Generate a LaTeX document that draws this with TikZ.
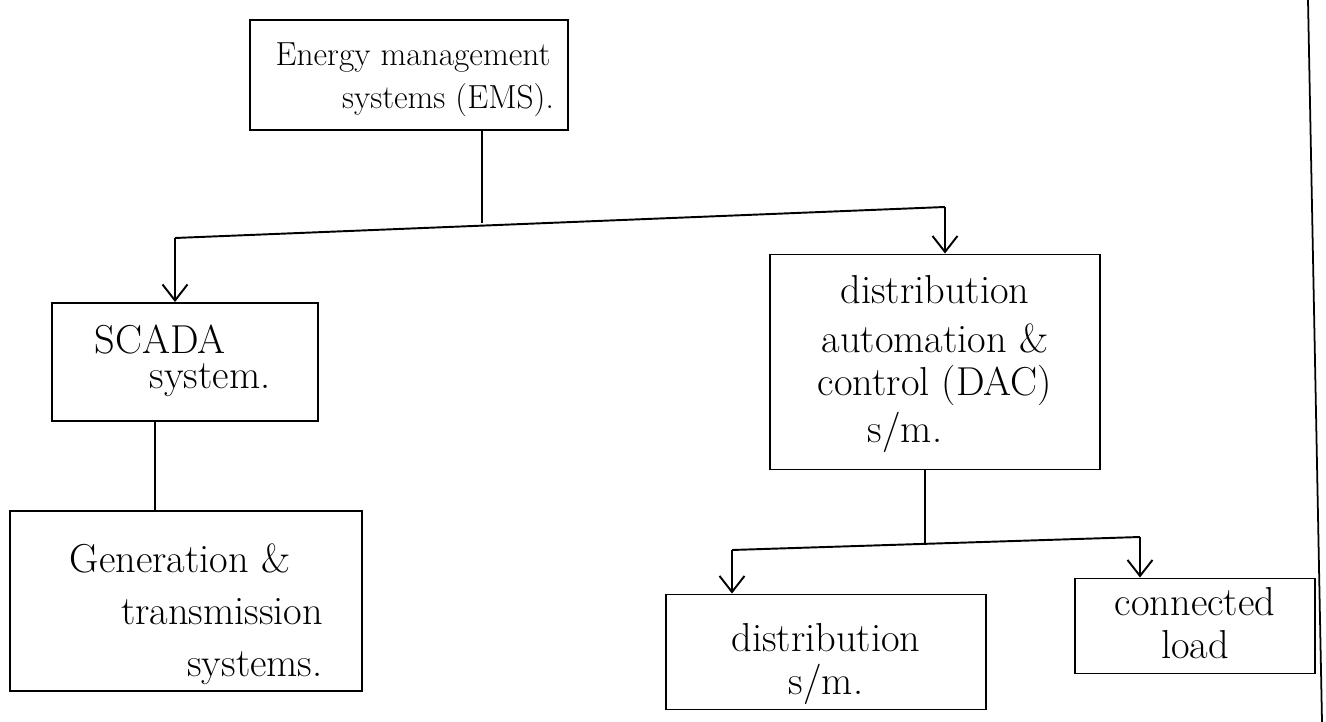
\documentclass[tikz,border=0pt]{standalone}
\usetikzlibrary{arrows.meta}
\begin{document}
\begin{tikzpicture}[x=0.02cm,y=-0.02cm,
  box/.style={draw,line width=1.1pt,inner sep=0pt},
  lbl/.style={font=\fontsize{23}{40}\selectfont,align=center},
  small/.style={font=\fontsize{19}{30}\selectfont},
  link/.style={line width=1.1pt},
  arr/.style={line width=1.1pt,-{Straight Barb[length=0.32cm,width=0.5cm,line width=1.1pt]}}]
\useasboundingbox (0,0) rectangle (1326,722);

% boxes
\node[box,minimum width=318*0.02cm,minimum height=110*0.02cm] (ems) at (409,75) {};
\node[box,minimum width=266*0.02cm,minimum height=118*0.02cm] (scada) at (185,362) {};
\node[box,minimum width=352*0.02cm,minimum height=180*0.02cm] (gen) at (186,601) {};
\node[box,minimum width=330*0.02cm,minimum height=215*0.02cm] (dac) at (935,362) {};
\node[box,minimum width=320*0.02cm,minimum height=115*0.02cm] (dist) at (826,652) {};
\node[box,minimum width=240*0.02cm,minimum height=95*0.02cm] (load) at (1195,626) {};

% texts
\node[lbl,small] (t1) at (413,58) {Energy management};
\node[lbl,small] (t2) at (448,100) {systems (EMS).};
\node[lbl] (t3) at (160,340) {SCADA};
\node[lbl] (t4) at (210,380) {system.};
\node[lbl] (t5) at (180,558) {Generation \&};
\node[lbl] (t6) at (222,612) {transmission};
\node[lbl] (t7) at (255,668) {systems.};
\node[lbl] (t8) at (935,290) {distribution};
\node[lbl] (t9) at (935,338) {automation \&};
\node[lbl] (t10) at (935,385) {control (DAC)};
\node[lbl] (t11) at (905,432) {s/m.};
\node[lbl] (t12) at (826,638) {distribution};
\node[lbl] (t13) at (826,684) {s/m.};
\node[lbl] (t14) at (1195,602) {connected};
\node[lbl] (t15) at (1195,645) {load};

% connectors
\coordinate (j1) at (482,223);
\coordinate (l1) at (175,238);
\coordinate (r1) at (945,207);
\draw[link] (ems.south -| j1) -- (j1);
\draw[link] (l1) -- (r1);
\draw[arr] (l1) -- (l1 |- scada.north);
\draw[arr] (r1) -- (r1 |- dac.north);

\draw[link] (scada.south -| 155,0) -- (gen.north -| 155,0);

\coordinate (j2) at (925,543);
\coordinate (l2) at (732,550);
\coordinate (r2) at (1140,537);
\draw[link] (dac.south -| j2) -- (j2);
\draw[link] (l2) -- (r2);
\draw[arr] (l2) -- (l2 |- dist.north);
\draw[arr] (r2) -- (r2 |- load.north);

% page edge
\draw[line width=1pt] (1308,0) -- (1322,722);
\end{tikzpicture}
\end{document}
